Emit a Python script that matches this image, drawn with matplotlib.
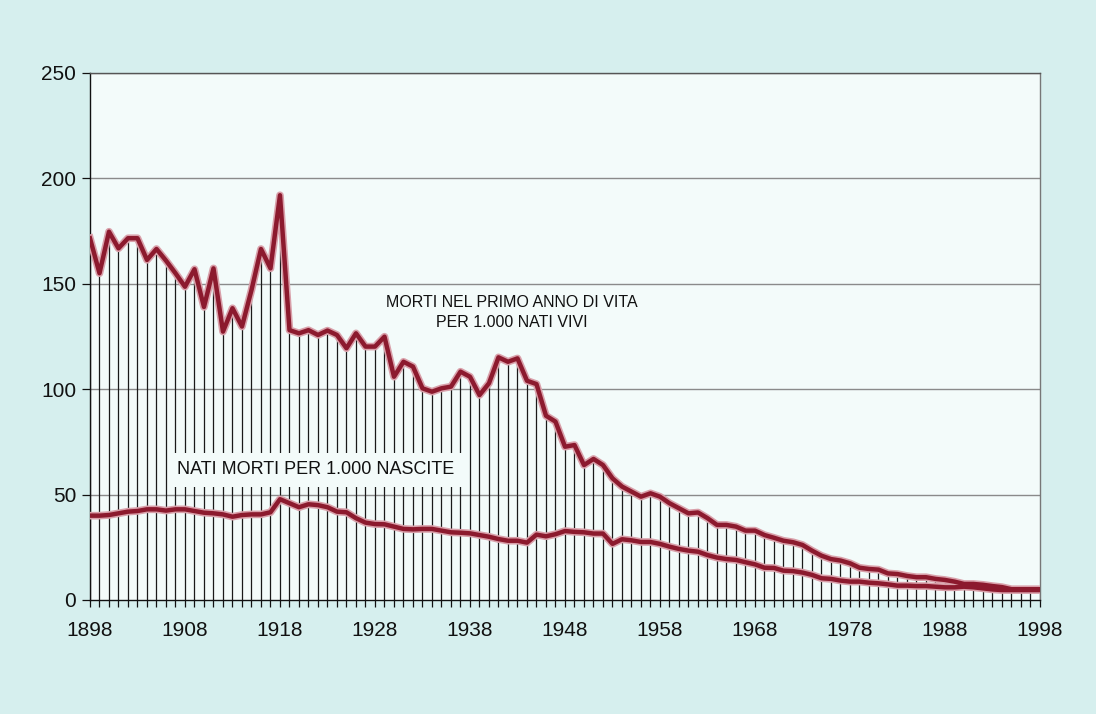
import matplotlib.pyplot as plt
import numpy as np

plt.rcParams['font.family'] = ['Liberation Sans', 'DejaVu Sans']

# years 1898-1998
years = list(range(1898, 1999))

# morti nel primo anno di vita per 1.000 nati vivi
infant = [171.6, 155, 174.7, 166.8, 171.6, 171.6, 161.3, 166.5, 161, 155,
          148.6, 156.9, 139, 157.3, 127.3, 138.4, 129.7, 147, 166.5, 157.3,
          192, 128, 126.5, 128, 125.7, 127.8, 125.7, 119.4, 126.5, 120.2,
          120.2, 124.9, 105.9, 113, 110.7, 100.4, 98.8, 100.4, 101.2, 108.3,
          105.9, 97.2, 102.8, 115.1, 113, 114.6, 104, 102.4, 87.4, 84.6,
          72.7, 73.5, 64, 66.9, 64, 57.7, 53.8, 51.4, 49, 50.6,
          49, 45.9, 43.5, 41.1, 41.5, 38.8, 35.6, 35.6, 34.8, 32.9,
          32.9, 30.8, 29.5, 28.1, 27.4, 26.1, 23.4, 21, 19.4, 18.7,
          17.4, 15.3, 14.7, 14.4, 12.6, 12.3, 11.4, 10.8, 10.8, 10,
          9.5, 8.7, 7.6, 7.6, 7.2, 6.6, 6.1, 5.1, 5.1, 5.1,
          5.1]

# nati morti per 1.000 nascite
stillborn = [40, 40, 40.3, 41.1, 41.9, 42.2, 43, 43, 42.4, 43,
             43, 42.2, 41.4, 41.1, 40.6, 39.5, 40.3, 40.6, 40.6, 41.6,
             47.8, 45.9, 44, 45.4, 45, 44, 41.9, 41.6, 38.8, 36.7,
             36, 35.9, 34.8, 33.7, 33.5, 33.7, 33.7, 32.9, 32.1, 31.9,
             31.6, 30.8, 30, 28.9, 28.1, 28.1, 27.2, 31, 30.2, 31.2,
             32.7, 32.3, 32.1, 31.5, 31.5, 26.6, 28.8, 28.3, 27.5, 27.5,
             26.6, 25.3, 24.2, 23.4, 22.9, 21.3, 20.1, 19.4, 19, 17.9,
             16.9, 15.3, 15.2, 13.9, 13.7, 13, 11.9, 10.3, 10, 9.2,
             8.7, 8.7, 8.2, 7.9, 7.4, 6.8, 6.8, 6.6, 6.6, 6.3,
             6, 6, 6.3, 6, 5.5, 5, 4.7, 4.7, 4.7, 4.7,
             4.7]

xticks = list(range(1898, 1999, 10))
yticks = [0, 50, 100, 150, 200, 250]

assert len(infant) == len(years) and len(stillborn) == len(years)

red = '#8c1a2e'
halo = '#d9a0aa'
bg = '#f3fbfa'

fig = plt.figure(figsize=(10.96, 7.14), dpi=100, facecolor='#d6efee')
ax = fig.add_axes([0.0821, 0.1597, 0.8668, 0.7381])
ax.set_facecolor(bg)

for y in yticks[1:]:
  ax.axhline(y, color='#8a8a8a', lw=1.0, zorder=1)

# vertical stems from 0 up to the infant mortality curve
ax.vlines(years, 0, infant, color='#1a1a1a', lw=0.9, zorder=2)

for series in (infant, stillborn):
  ax.plot(years, series, color=halo, lw=5.5, solid_joinstyle='round', zorder=3)
  ax.plot(years, series, color=red, lw=3.2, solid_joinstyle='round', zorder=4)

ax.set_xlim(1898, 1998)
ax.set_ylim(0, 250)
ax.set_xticks(xticks)
ax.set_xticks(years, minor=True)
ax.set_yticks(yticks)
ax.tick_params(axis='x', which='major', direction='out', length=5, width=0.9,
               labelsize=15, pad=10, colors='#111111')
ax.tick_params(axis='x', which='minor', direction='out', length=5, width=0.9, colors='#111111')
ax.tick_params(axis='y', direction='out', length=6, width=0.9, labelsize=15, pad=4, colors='#111111')

ax.spines['left'].set_color('#111111')
ax.spines['bottom'].set_color('#111111')
ax.spines['top'].set_color('#555555')
ax.spines['right'].set_color('#777777')
for s in ax.spines.values():
  s.set_linewidth(1.0)

ax.text(1942.4, 136.5, 'MORTI NEL PRIMO ANNO DI VITA\nPER 1.000 NATI VIVI',
        ha='center', va='center', fontsize=11.5, color='#111111', linespacing=1.45, zorder=5)
ax.text(1921.7, 61.7, 'NATI MORTI PER 1.000 NASCITE',
        ha='center', va='center', fontsize=13, color='#111111', zorder=5,
        bbox=dict(facecolor=bg, edgecolor='none', pad=6))

fig.savefig('out.png', dpi=100, facecolor=fig.get_facecolor())
